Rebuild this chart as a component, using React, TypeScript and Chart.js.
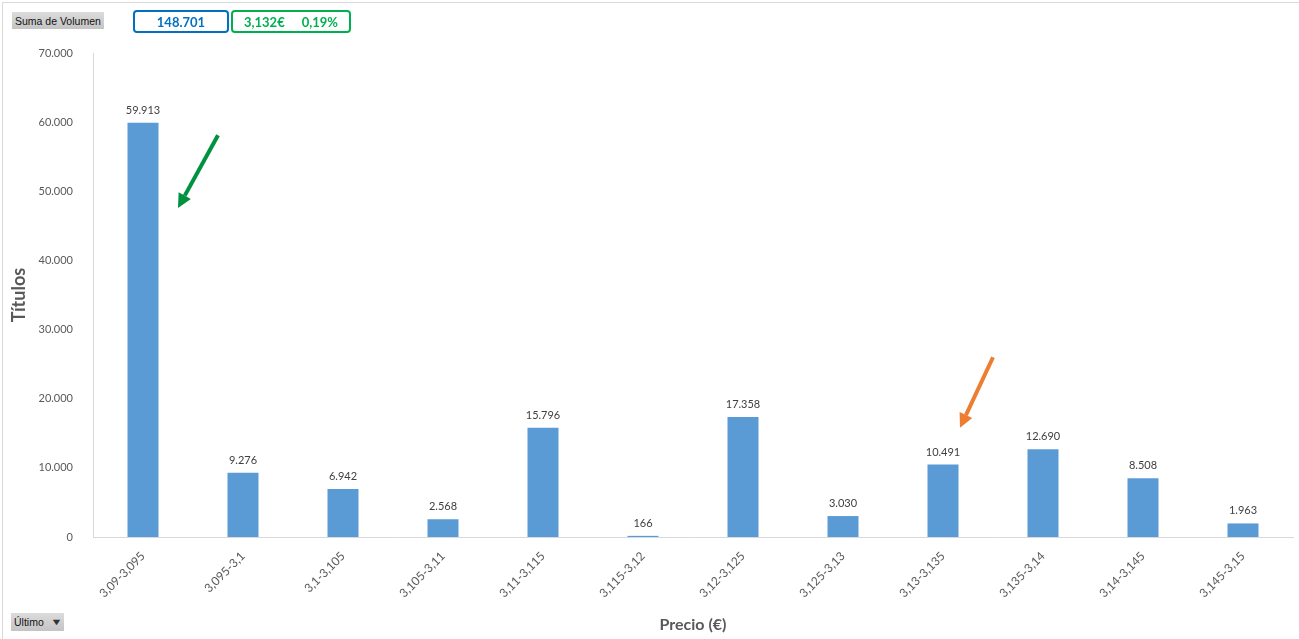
import React, { useEffect, useRef } from "react";
import { Chart, registerables } from "chart.js";

Chart.register(...registerables);

const categories = [
  "3,09-3,095", "3,095-3,1", "3,1-3,105", "3,105-3,11", "3,11-3,115", "3,115-3,12",
  "3,12-3,125", "3,125-3,13", "3,13-3,135", "3,135-3,14", "3,14-3,145", "3,145-3,15",
];
const volumes = [59913, 9276, 6942, 2568, 15796, 166, 17358, 3030, 10491, 12690, 8508, 1963];
const yMax = 70000;
const yStep = 10000;
const totalLabel = "148.701";
const priceLabel = "3,132€";
const changeLabel = "0,19%";
// arrows in data space: [fromIndex, fromValue, toIndex, toValue]
const greenArrow = [0.75, 58100, 0.35, 47600];
const orangeArrow = [8.5, 26000, 8.17, 15800];

const FONT = "Lato, 'Open Sans', sans-serif";

function fmt(v: number): string {
  return String(Math.round(v)).replace(/\B(?=(\d{3})+(?!\d))/g, ".");
}

const labelsPlugin = {
  id: "barLabels",
  afterDatasetsDraw(chart: any) {
    const ctx = chart.ctx;
    const meta = chart.getDatasetMeta(0);
    ctx.save();
    ctx.font = `11px ${FONT}`;
    ctx.fillStyle = "#404040";
    ctx.textAlign = "center";
    ctx.textBaseline = "bottom";
    meta.data.forEach((bar: any, i: number) => {
      ctx.fillText(fmt(volumes[i]), bar.x, bar.y - 7);
    });
    ctx.restore();
  },
};

function drawArrow(chart: any, a: number[], color: string) {
  const xs = chart.scales.x;
  const ys = chart.scales.y;
  const x0 = xs.getPixelForValue(a[0]);
  const y0 = ys.getPixelForValue(a[1]);
  const x1 = xs.getPixelForValue(a[2]);
  const y1 = ys.getPixelForValue(a[3]);
  const ctx = chart.ctx;
  const ang = Math.atan2(y1 - y0, x1 - x0);
  const head = 14;
  const hw = 7;
  const bx = x1 - head * Math.cos(ang);
  const by = y1 - head * Math.sin(ang);
  ctx.save();
  ctx.strokeStyle = color;
  ctx.fillStyle = color;
  ctx.lineWidth = 4;
  ctx.beginPath();
  ctx.moveTo(x0, y0);
  ctx.lineTo(bx, by);
  ctx.stroke();
  ctx.beginPath();
  ctx.moveTo(x1, y1);
  ctx.lineTo(bx + hw * Math.sin(ang), by - hw * Math.cos(ang));
  ctx.lineTo(bx - hw * Math.sin(ang), by + hw * Math.cos(ang));
  ctx.closePath();
  ctx.fill();
  ctx.restore();
}

const arrowsPlugin = {
  id: "arrows",
  afterDatasetsDraw(chart: any) {
    drawArrow(chart, greenArrow, "#00923F");
    drawArrow(chart, orangeArrow, "#ED7D31");
  },
};

export default function App() {
  const ref = useRef<HTMLCanvasElement | null>(null);

  useEffect(() => {
    if (!ref.current) return;
    const chart = new Chart(ref.current, {
      type: "bar",
      data: {
        labels: categories,
        datasets: [
          {
            data: volumes,
            backgroundColor: "#5B9BD5",
            barPercentage: 0.62,
            categoryPercentage: 0.5,
          },
        ],
      },
      options: {
        animation: false,
        responsive: false,
        maintainAspectRatio: false,
        layout: { padding: { left: 8, top: 53, right: 6, bottom: 5 } },
        plugins: { legend: { display: false }, tooltip: { enabled: false } },
        scales: {
          x: {
            grid: { display: false },
            border: { display: true, color: "#d9d9d9", width: 1 },
            ticks: {
              color: "#595959",
              font: { family: FONT, size: 12 },
              minRotation: 45,
              maxRotation: 45,
              padding: 4,
            },
            title: {
              display: true,
              text: "Precio (€)",
              color: "#595959",
              font: { family: FONT, size: 16, weight: "bold" },
              padding: 0,
            },
            afterFit: (s: any) => {
              s.height = 639 - 5 - 537;
            },
          },
          y: {
            min: 0,
            max: yMax,
            grid: { display: false },
            border: { display: true, color: "#d9d9d9", width: 1 },
            ticks: {
              stepSize: yStep,
              color: "#595959",
              font: { family: FONT, size: 11 },
              padding: 12,
              callback: (v: any) => fmt(Number(v)),
            },
            title: {
              display: true,
              text: "Títulos",
              color: "#595959",
              font: { family: FONT, size: 18, weight: "bold" },
              padding: 0,
            },
            afterFit: (s: any) => {
              s.width = 85;
            },
          },
        },
      },
      plugins: [labelsPlugin, arrowsPlugin],
    });
    return () => chart.destroy();
  }, []);

  const btn: React.CSSProperties = {
    position: "absolute",
    background: "linear-gradient(#dcdcdc, #c4c4c4)",
    fontFamily: "'Liberation Sans', Arial, sans-serif",
    fontSize: 10.5,
    color: "#111",
    display: "flex",
    alignItems: "center",
    paddingLeft: 3,
    boxSizing: "border-box",
    whiteSpace: "nowrap",
  };

  return (
    <div style={{ position: "fixed", left: 0, top: 0, width: 1299, height: 639, background: "#fff", overflow: "hidden" }}>
      <div style={{ position: "absolute", left: 2, top: 2, width: 1400, height: 700, borderTop: "1px solid #d9d9d9", borderLeft: "1px solid #d9d9d9" }} />
      <canvas ref={ref} width={1299} height={639} style={{ position: "absolute", left: 0, top: 0 }} />
      <div style={{ ...btn, left: 12, top: 12, width: 92, height: 17 }}>Suma de Volumen</div>
      <div
        style={{
          position: "absolute", left: 133, top: 10, width: 96, height: 23, boxSizing: "border-box",
          border: "2px solid #0070C0", borderRadius: 4, color: "#0070C0", fontFamily: FONT,
          fontWeight: "bold", fontSize: 13, display: "flex", alignItems: "center", justifyContent: "center",
        }}
      >
        {totalLabel}
      </div>
      <div
        style={{
          position: "absolute", left: 231, top: 10, width: 120, height: 23, boxSizing: "border-box",
          border: "2px solid #00B050", borderRadius: 4, color: "#00B050", fontFamily: FONT,
          fontWeight: "bold", fontSize: 13, display: "flex", alignItems: "center", justifyContent: "center",
          gap: 17,
        }}
      >
        <span>{priceLabel}</span>
        <span>{changeLabel}</span>
      </div>
      <div style={{ ...btn, left: 11, top: 613, width: 53, height: 18 }}>
        Último<span style={{ fontSize: 9, marginLeft: 8, color: "#333", transform: "scaleX(1.4)" }}>▼</span>
      </div>
    </div>
  );
}
